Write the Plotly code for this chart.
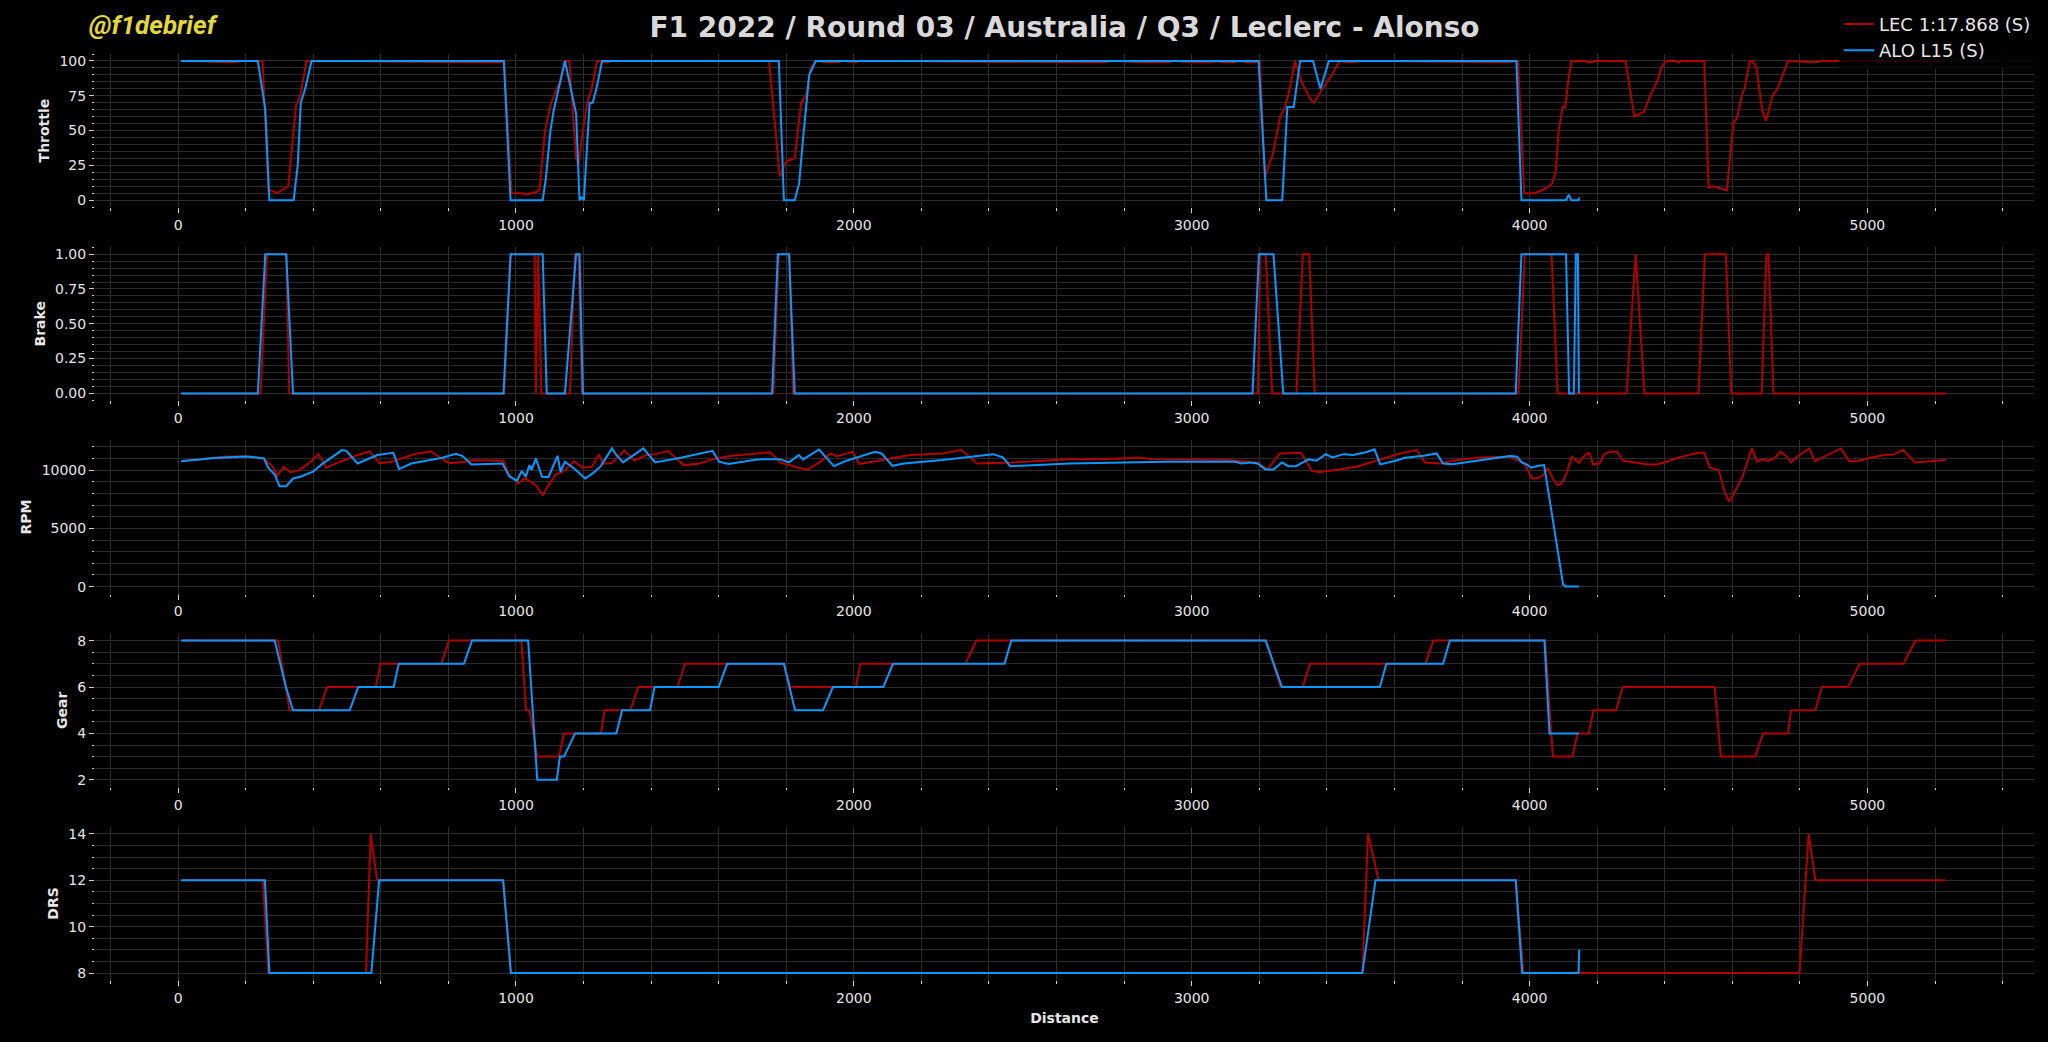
import plotly.graph_objects as go
from plotly.subplots import make_subplots

# values: distance (m) and channel value per driver
lec_throttle_d = [15, 140, 160, 200, 250, 267, 293, 326, 349, 362, 380, 907, 955, 965, 987, 1020, 1030, 1045,
                  1062, 1070, 1086, 1102, 1112, 1130, 1145, 1158, 1178, 1185, 1198, 1211, 1224, 1240, 1270, 1280,
                  1749, 1781, 1800, 1825, 1844, 1858, 1872, 1891, 1920, 1950, 1970, 2004, 2020, 2721, 2740, 2760,
                  2862, 2929, 2945, 3004, 3060, 3075, 3089, 3127, 3140, 3164, 3193, 3202, 3217, 3240, 3262, 3277,
                  3290, 3306, 3325, 3353, 3362, 3387, 3415, 3438, 3460, 3480, 3500, 3930, 3966, 3984, 4015, 4046,
                  4067, 4077, 4086, 4098, 4106, 4114, 4124, 4160, 4180, 4195, 4284, 4310, 4325, 4338, 4357, 4377,
                  4390, 4403, 4430, 4440, 4450, 4517, 4530, 4543, 4574, 4584, 4603, 4615, 4628, 4636, 4652, 4660,
                  4672, 4688, 4700, 4708, 4719, 4734, 4750, 4765, 4843, 4869, 5232]
lec_throttle = [100, 99.5, 99, 100, 100, 8, 5, 10, 68, 75, 100, 99, 99, 100, 5, 5, 4, 5,
                6, 8, 50, 68, 75, 85, 100, 100, 30, 25, 50, 70, 80, 100, 99, 100,
                100, 17, 28, 30, 70, 75, 95, 100, 99, 99, 100, 99, 100, 99, 99, 100,
                99, 99, 100, 99, 99, 100, 99, 99, 100, 99, 99, 100, 17, 33, 60, 67,
                80, 100, 85, 72, 70, 80, 90, 100, 99, 99, 100, 99, 100, 5, 5, 8,
                12, 20, 50, 67, 67, 85, 100, 100, 99, 100, 100, 60, 62, 63, 75, 85,
                95, 100, 100, 99, 100, 100, 9, 10, 8, 7, 55, 60, 75, 80, 100, 100,
                95, 65, 57, 65, 75, 80, 90, 100, 99, 100, 100]

alo_throttle_d = [9, 236, 258, 270, 342, 354, 363, 376, 395, 964, 984, 1079, 1088, 1102, 1112, 1145, 1178,
                  1188, 1194, 1201, 1218, 1227, 1238, 1255, 1778, 1793, 1825, 1838, 1850, 1868, 1887, 3198,
                  3221, 3268, 3283, 3302, 3321, 3359, 3381, 3406, 3961, 3976, 4108, 4116, 4124, 4145, 4147]
alo_throttle = [100, 100, 65, 0, 0, 25, 70, 80, 100, 100, 0, 0, 15, 50, 65, 100, 62,
                0, 2, 0, 70, 70, 80, 100, 100, 0, 0, 12, 45, 90, 100, 100,
                0, 0, 67, 67, 100, 100, 80, 100, 100, 0, 0, 4, 0, 0, 2]

lec_brake_d = [15, 244, 263, 320, 329, 965, 985, 1055, 1059, 1066, 1075, 1160, 1174, 1185, 1195, 1762, 1778,
               1810, 1820, 3196, 3203, 3219, 3238, 3310, 3329, 3348, 3364, 3967, 3986, 4065, 4083, 4287, 4314,
               4340, 4500, 4519, 4581, 4597, 4687, 4701, 4707, 4722, 5232]
lec_brake = [0, 0, 1, 1, 0, 0, 1, 1, 0, 1, 0, 0, 1, 1, 0, 0, 1,
             1, 0, 0, 1, 1, 0, 0, 1, 1, 0, 0, 1, 1, 0, 0, 1,
             0, 0, 1, 1, 0, 0, 1, 1, 0, 0]

alo_brake_d = [9, 236, 258, 320, 340, 963, 984, 1079, 1091, 1145, 1178, 1188, 1198, 1758, 1775, 1808, 1825,
               3180, 3199, 3242, 3271, 3959, 3976, 4108, 4117, 4131, 4137, 4143, 4146]
alo_brake = [0, 0, 1, 1, 0, 0, 1, 1, 0, 0, 1, 1, 0, 0, 1, 1, 0,
             0, 1, 1, 0, 0, 1, 1, 0, 0, 1, 1, 0]

lec_rpm_d = [15, 135, 207, 254, 280, 293, 313, 333, 359, 392, 415, 439, 478, 531, 567, 597, 630, 703, 749,
             802, 842, 875, 963, 980, 1007, 1027, 1059, 1079, 1092, 1119, 1139, 1172, 1198, 1225, 1245, 1258,
             1284, 1321, 1350, 1387, 1409, 1450, 1497, 1544, 1582, 1638, 1752, 1784, 1846, 1865, 1903, 1931,
             1950, 1997, 2016, 2054, 2167, 2262, 2318, 2365, 2469, 2639, 2733, 2846, 2884, 3110, 3195, 3224,
             3261, 3323, 3356, 3374, 3412, 3488, 3563, 3616, 3666, 3690, 3730, 3786, 3857, 3941, 3984, 4008,
             4022, 4040, 4054, 4069, 4083, 4094, 4107, 4125, 4146, 4164, 4177, 4188, 4207, 4221, 4238, 4259,
             4277, 4308, 4351, 4379, 4407, 4450, 4499, 4517, 4534, 4548, 4560, 4577, 4591, 4605, 4630, 4658,
             4673, 4689, 4706, 4725, 4742, 4760, 4774, 4791, 4828, 4845, 4922, 4946, 4975, 5014, 5049, 5078,
             5106, 5141, 5232]
lec_rpm = [10800, 11150, 11200, 11000, 10300, 9500, 10300, 9800, 10000, 10700, 11400, 10200, 10700, 11300,
           11600, 10600, 10700, 11400, 11600, 10600, 10700, 10850, 10800, 9600, 8850, 9300, 8700, 7850, 8500,
           9650, 9850, 10750, 10200, 10300, 11350, 10550, 10600, 11700, 10850, 11300, 11350, 11630, 10430,
           10570, 10940, 11230, 11520, 10630, 10140, 10060, 10770, 11430, 11200, 11570, 10520, 10720, 11290,
           11430, 11720, 10570, 10660, 10940, 10940, 11060, 10940, 10860, 10630, 10050, 11430, 11490, 9940,
           9830, 9950, 10290, 10920, 11430, 11720, 10660, 10570, 10860, 11090, 11150, 10570, 9280, 9280, 9570,
           10140, 9280, 8710, 8850, 9510, 11150, 10630, 11290, 11490, 10490, 10570, 11380, 11580, 11580, 10800,
           10660, 10490, 10490, 10770, 11150, 11490, 11490, 10200, 10060, 10000, 8140, 7280, 7990, 9430, 11860,
           10720, 10920, 10780, 11000, 11580, 11200, 10660, 11150, 11860, 10770, 11860, 10770, 10800, 11090,
           11290, 11350, 11720, 10660, 10860]

alo_rpm_d = [9, 108, 201, 254, 267, 287, 300, 320, 340, 362, 399, 425, 485, 498, 531, 571, 590, 637, 654,
             690, 782, 822, 842, 868, 960, 980, 1003, 1017, 1029, 1040, 1046, 1059, 1077, 1096, 1123, 1132,
             1145, 1172, 1205, 1231, 1251, 1284, 1297, 1317, 1377, 1412, 1488, 1582, 1601, 1629, 1714, 1780,
             1808, 1837, 1850, 1897, 1941, 1978, 2063, 2082, 2114, 2148, 2262, 2412, 2441, 2463, 2639, 2922,
             3129, 3148, 3173, 3195, 3218, 3242, 3267, 3286, 3308, 3346, 3369, 3397, 3416, 3450, 3478, 3518,
             3541, 3558, 3603, 3631, 3687, 3725, 3744, 3772, 3885, 3941, 3963, 3977, 3991, 4005, 4026, 4043,
             4069, 4099, 4107, 4146]
alo_rpm = [10770, 11030, 11170, 11000, 10200, 9570, 8620, 8620, 9280, 9430, 9860, 10490, 11720, 11650, 10570,
           11060, 11290, 11490, 10090, 10570, 11060, 11400, 11200, 10490, 10570, 9480, 9080, 9940, 9430, 10430,
           10000, 11000, 9430, 9400, 11230, 9860, 10720, 10140, 9280, 9800, 10340, 11860, 11300, 10660, 11860,
           10660, 11060, 11660, 10720, 10520, 10920, 10940, 10660, 11290, 10920, 11770, 10340, 10800, 11570,
           11430, 10370, 10570, 10860, 11370, 11090, 10340, 10570, 10720, 10720, 10570, 10660, 10570, 10060,
           10060, 10660, 10340, 10340, 10920, 10800, 11370, 11090, 11370, 11290, 11550, 11780, 10490, 10800,
           11060, 11230, 11430, 10570, 10510, 10950, 11200, 11150, 10660, 10490, 10200, 10370, 10430, 5700,
           200, 0, 0]

lec_gear_d = [15, 296, 330, 417, 441, 585, 599, 779, 802, 1016, 1030, 1040, 1063, 1127, 1142, 1252, 1262,
              1339, 1362, 1478, 1500, 1793, 1812, 2006, 2019, 2330, 2363, 3219, 3263, 3329, 3350, 3692, 3715,
              4046, 4069, 4127, 4142, 4175, 4189, 4256, 4276, 4548, 4566, 4668, 4691, 4765, 4774, 4846, 4865,
              4943, 4977, 5107, 5142, 5232]
lec_gear = [8, 8, 5, 5, 6, 6, 7, 7, 8, 8, 5, 5, 3, 3, 4, 4, 5,
            5, 6, 6, 7, 7, 6, 6, 7, 7, 8, 8, 6, 6, 7, 7, 8,
            8, 3, 3, 4, 4, 5, 5, 6, 6, 3, 3, 4, 4, 5, 5, 6,
            6, 7, 7, 8, 8]

alo_gear_d = [9, 286, 319, 340, 508, 533, 638, 653, 846, 870, 1036, 1063, 1121, 1130, 1142, 1175, 1297,
              1314, 1397, 1410, 1600, 1625, 1793, 1826, 1909, 1938, 2087, 2116, 2446, 2466, 3219, 3267, 3557,
              3576, 3744, 3764, 4044, 4059, 4146]
alo_gear = [8, 8, 6, 5, 5, 6, 6, 7, 7, 8, 8, 2, 2, 3, 3, 4, 4,
            5, 5, 6, 6, 7, 7, 5, 5, 6, 6, 7, 7, 8, 8, 6, 6,
            7, 7, 8, 8, 4, 4]

lec_drs_d = [15, 251, 267, 556, 570, 589, 962, 985, 3505, 3522, 3553, 3959, 3982, 4799, 4826, 4846, 5232]
lec_drs = [12, 12, 8, 8, 14, 12, 12, 8, 8, 14, 12, 12, 8, 8, 14, 12, 12]

alo_drs_d = [9, 257, 270, 572, 595, 962, 985, 3505, 3544, 3959, 3978, 4145, 4147]
alo_drs = [12, 12, 8, 8, 12, 12, 8, 8, 12, 12, 8, 8, 9]

lec_name = "LEC 1:17.868 (S)"
alo_name = "ALO L15 (S)"
LEC_COLOR = "#b00000"
ALO_COLOR = "#0a98ff"

panels = [
    ("Throttle", lec_throttle_d, lec_throttle, alo_throttle_d, alo_throttle, [-5, 105], 25, 5, None),
    ("Brake", lec_brake_d, lec_brake, alo_brake_d, alo_brake, [-0.05, 1.05], 0.25, 0.05, ".2f"),
    ("RPM", lec_rpm_d, lec_rpm, alo_rpm_d, alo_rpm, [-597, 12547], 5000, 1000, "d"),
    ("Gear", lec_gear_d, lec_gear, alo_gear_d, alo_gear, [1.7, 8.3], 2, 0.5, None),
    ("DRS", lec_drs_d, lec_drs, alo_drs_d, alo_drs, [7.7, 14.3], 2, 0.5, None),
]

FONT = "DejaVu Sans"
GRID = "#2c2c2c"
TICK = "#cfcfcf"

fig = make_subplots(rows=5, cols=1, vertical_spacing=0.0433)

for i, (label, ld, lv, ad, av, yr, dt, mdt, fmt) in enumerate(panels):
    row = i + 1
    fig.add_trace(go.Scatter(x=ld, y=lv, mode="lines", name=lec_name, legendgroup="lec",
                             showlegend=(row == 1), line=dict(color=LEC_COLOR, width=2)), row=row, col=1)
    fig.add_trace(go.Scatter(x=ad, y=av, mode="lines", name=alo_name, legendgroup="alo",
                             showlegend=(row == 1), line=dict(color=ALO_COLOR, width=2)), row=row, col=1)
    fig.update_yaxes(range=yr, dtick=dt, tick0=0, tickformat=fmt,
                     title=dict(text="<b>" + label + "</b>", font=dict(size=14, color="#e6e6e6"), standoff=6),
                     showgrid=True, gridcolor=GRID, gridwidth=1, zeroline=False, showline=False,
                     ticks="outside", ticklen=5, tickcolor=TICK, tickfont=dict(size=14, color="#e6e6e6"),
                     minor=dict(dtick=mdt, tick0=0, showgrid=True, gridcolor=GRID, gridwidth=1,
                                ticks="outside", ticklen=2.5, tickcolor=TICK),
                     row=row, col=1)
    fig.update_xaxes(range=[-246, 5493], dtick=1000, tick0=0,
                     showgrid=True, gridcolor=GRID, gridwidth=1, zeroline=False, showline=False,
                     ticks="outside", ticklen=5, tickcolor=TICK, tickfont=dict(size=14, color="#e6e6e6"),
                     minor=dict(dtick=200, tick0=0, showgrid=True, gridcolor=GRID, gridwidth=1,
                                ticks="outside", ticklen=2.5, tickcolor=TICK),
                     row=row, col=1)

fig.update_xaxes(title=dict(text="<b>Distance</b>", font=dict(size=14, color="#e6e6e6"), standoff=8),
                 row=5, col=1)

fig.add_annotation(text="<b><i>@f1debrief</i></b>", xref="paper", yref="paper", x=-0.004, y=1.031,
                   xanchor="left", yanchor="middle", showarrow=False,
                   font=dict(family="Roboto", size=26, color="#e3d839"))

fig.update_layout(
    width=2048, height=1042,
    margin=dict(l=95, r=14, t=54, b=62, autoexpand=False),
    paper_bgcolor="#000000", plot_bgcolor="#000000",
    font=dict(family=FONT, color="#e6e6e6"),
    title=dict(text="<b>F1 2022 / Round 03 / Australia / Q3 / Leclerc - Alonso</b>",
               x=0.5, xref="paper", xanchor="center", y=1 - 27.5 / 1042, yanchor="middle",
               font=dict(size=28, color="#d9d9d9")),
    legend=dict(x=1.001, xanchor="right", xref="paper", y=1.0521, yanchor="top", yref="paper",
                bgcolor="rgba(0,0,0,0.8)", font=dict(size=18, color="#e6e6e6"),
                traceorder="grouped", tracegroupgap=0),
    showlegend=True,
)

fig.write_html("out.html", config={"displayModeBar": False},
               post_script="document.body.style.margin='0';document.body.style.overflow='hidden';")
